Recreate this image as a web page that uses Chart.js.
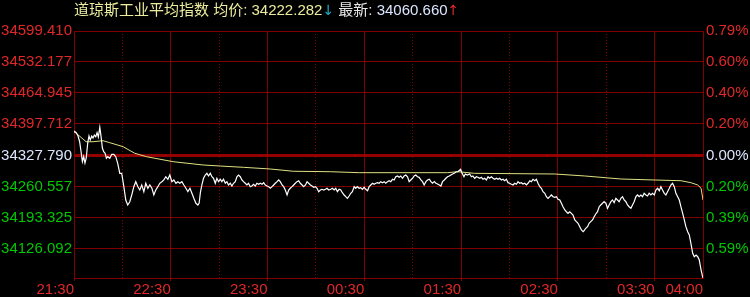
<!DOCTYPE html>
<html>
<head>
<meta charset="utf-8">
<script src="https://cdn.jsdelivr.net/npm/chart.js@4/dist/chart.umd.min.js"></script>
<style>
  html, body { margin: 0; padding: 0; background: #000; overflow: hidden; }
  #wrap { position: relative; width: 750px; height: 297px; }
  #title {
    position: absolute; left: 74px; top: 1px;
    font: 15px "Liberation Sans", "Noto Sans CJK SC", sans-serif;
    line-height: 17px; white-space: nowrap;
  }
  #title .arr { font-family: "DejaVu Sans"; font-size: 14px; }
</style>
</head>
<body>
<div id="wrap">
  <canvas id="c" width="750" height="297"></canvas>
  <div id="title"><span style="color:#ecec9e">道琼斯工业平均指数 均价: 34222.282</span><span class="arr" style="color:#1fb0c8">↓</span> <span style="color:#e6e6e6">最新: </span><span style="color:#dce6ff">34060.660</span><span class="arr" style="color:#e02828">↑</span></div>
</div>
<script>
// --- datos ---
// minutos desde las 21:30
const minutes = [0,1.4,2.5,3.5,4.5,5.2,6.0,6.8,7.6,8.5,9.3,10.1,11.0,11.8,12.6,13.5,14.3,15.1,16.0,16.8,
  17.6,18.4,19.3,20.1,20.9,22.2,23.4,24.7,25.9,27.1,28.4,29.6,30.9,32.1,33.3,34.6,35.8,37.1,38.3,39.6,
  40.8,42.0,43.3,44.5,45.8,47.0,48.3,49.5,50.7,52.0,53.2,54.5,55.7,56.9,58.2,59.4,60.7,61.9,63.2,64.4,
  65.6,66.9,68.1,69.4,70.6,71.9,73.1,74.3,75.6,76.8,77.6,78.4,79.3,80.3,81.4,82.4,83.4,84.5,85.5,86.5,
  87.6,88.6,89.6,90.7,91.7,92.7,93.8,94.8,95.8,96.9,97.9,98.9,100.0,101.0,102.0,103.1,104.1,105.1,106.2,107.2,
  108.2,109.3,110.3,111.3,112.4,113.4,114.5,115.5,116.6,117.6,118.6,119.7,120.7,121.7,122.8,123.8,124.8,125.9,126.9,127.9,
  129.0,130.0,131.0,132.1,133.1,134.1,135.2,136.2,137.2,138.3,139.3,140.3,141.4,142.4,143.5,144.5,145.5,146.6,147.6,148.6,
  149.7,150.7,151.7,152.8,153.8,154.8,155.9,156.9,157.9,159.2,160.2,161.3,162.3,163.3,164.4,165.4,166.4,167.5,168.5,169.5,
  170.6,171.6,172.6,173.7,174.7,175.7,176.8,177.8,178.8,179.9,180.9,182.0,183.0,184.0,185.1,186.1,187.1,188.2,189.2,190.2,
  191.3,192.3,193.3,194.4,195.4,196.4,197.5,198.5,199.5,200.6,201.6,202.6,203.7,204.7,205.7,206.8,207.8,208.8,209.9,210.9,
  211.9,213.0,214.0,215.1,216.1,217.1,218.2,219.2,220.3,221.3,222.3,223.4,224.4,225.4,226.5,227.5,228.5,229.6,230.6,231.6,
  232.7,233.7,234.7,235.8,236.8,238.0,239.7,240.5,241.8,242.6,243.9,245.3,246.4,247.3,248.4,249.5,250.4,251.5,252.6,253.6,
  254.6,255.7,256.7,257.7,258.8,259.8,260.8,261.9,262.9,263.9,265.0,266.0,267.0,268.1,269.1,270.1,271.2,272.2,273.2,274.3,
  275.3,276.3,277.4,278.4,279.5,280.5,281.5,282.6,283.6,284.6,285.7,286.7,287.7,288.8,289.8,290.8,291.9,292.9,293.9,295.0,
  296.0,297.0,298.1,299.1,300.1,301.2,302.2,303.2,304.3,305.3,306.3,307.4,308.4,309.4,310.5,311.5,312.5,313.6,314.6,315.7,
  316.3,317.3,318.4,319.4,320.4,321.5,322.5,323.5,324.6,325.6,326.6,327.7,328.7,329.8,330.8,331.8,332.9,333.9,334.9,336.0,
  337.0,338.0,339.1,340.1,341.1,342.2,343.2,344.2,345.3,346.3,347.3,348.4,349.4,350.4,351.5,352.5,353.5,354.6,355.6,356.6,
  357.7,358.7,359.8,360.8,361.8,362.9,363.9,364.9,366.0,367.0,368.0,369.1,370.1,371.1,372.2,373.2,374.3,375.3,376.3,377.4,
  378.4,379.4,380.5,381.5,382.5,383.6,384.6,385.7,386.7,387.7,388.8,390];

const prices = [34381.6,34378.0,34370.8,34358.3,34333.7,34314.8,34325.7,34312.0,34322.9,34355.5,34370.8,34362.1,34370.8,34366.4,34372.9,34369.2,34378.0,34368.6,34389.7,34369.2,
  34344.6,34336.6,34333.1,34322.2,34325.7,34322.2,34330.9,34330.9,34325.7,34311.3,34289.5,34289.5,34260.4,34231.4,34220.5,34227.7,34242.3,34260.4,34271.3,34260.4,
  34253.2,34264.1,34249.5,34267.8,34256.9,34264.1,34256.9,34242.3,34253.2,34260.4,34267.8,34271.3,34275.0,34282.1,34276.5,34285.8,34271.3,34275.0,34267.8,34271.3,
  34267.8,34271.3,34264.1,34256.9,34249.5,34256.9,34246.0,34235.1,34224.2,34220.5,34224.9,34248.8,34264.1,34278.7,34285.8,34289.5,34283.7,34289.5,34282.1,34278.7,
  34267.8,34278.7,34271.3,34276.5,34271.3,34276.5,34267.8,34271.3,34264.1,34267.8,34261.9,34267.8,34271.3,34282.1,34285.8,34282.1,34275.0,34271.3,34267.8,34264.1,
  34267.8,34260.4,34261.9,34265.6,34261.9,34267.8,34265.6,34267.8,34265.6,34269.1,34264.1,34261.9,34260.4,34256.9,34260.4,34264.1,34267.8,34271.3,34275.0,34271.3,
  34264.1,34260.4,34253.2,34242.3,34253.2,34256.9,34260.4,34264.1,34267.8,34271.3,34273.4,34267.8,34264.1,34260.4,34264.1,34271.3,34267.8,34264.1,34261.9,34259.1,
  34260.4,34256.9,34249.5,34253.2,34254.7,34253.2,34254.7,34256.9,34253.2,34254.7,34256.9,34253.2,34256.9,34249.5,34254.7,34253.2,34247.3,34242.3,34238.6,34235.1,
  34240.1,34246.0,34249.5,34260.4,34256.9,34260.4,34256.9,34258.2,34254.7,34259.1,34254.7,34251.7,34260.4,34264.1,34267.8,34265.6,34267.8,34269.1,34267.8,34271.3,
  34269.1,34271.3,34267.8,34271.3,34273.4,34271.3,34276.5,34275.0,34282.1,34283.7,34280.8,34283.7,34278.7,34283.7,34285.8,34282.1,34271.3,34275.0,34278.7,34283.7,
  34285.8,34282.1,34280.8,34275.0,34271.3,34264.1,34271.3,34275.0,34276.5,34271.3,34267.8,34271.3,34267.8,34266.2,34264.1,34261.9,34271.3,34275.0,34278.7,34282.1,
  34283.7,34285.8,34288.0,34289.5,34292.4,34293.0,34298.3,34290.9,34282.1,34288.0,34285.8,34288.0,34282.1,34283.7,34278.7,34282.1,34280.8,34278.7,34280.8,34276.5,
  34278.7,34275.0,34282.1,34278.7,34282.1,34278.7,34276.5,34278.7,34276.5,34278.7,34275.0,34276.5,34273.4,34276.5,34269.1,34267.8,34265.6,34264.1,34267.8,34265.6,
  34271.3,34267.8,34269.1,34266.2,34267.8,34264.1,34267.8,34273.4,34271.3,34276.5,34273.4,34276.5,34267.8,34260.4,34256.9,34249.5,34246.0,34238.6,34235.1,34238.6,
  34242.3,34238.6,34237.3,34238.6,34232.9,34231.4,34224.2,34216.8,34209.6,34205.9,34202.4,34205.9,34202.4,34198.7,34187.9,34184.2,34180.7,34173.3,34166.1,34162.4,
  34164.6,34169.8,34173.3,34180.7,34184.2,34187.9,34195.0,34200.9,34205.9,34216.8,34220.5,34224.2,34227.7,34224.2,34213.3,34220.5,34227.7,34231.4,34225.5,34235.1,
  34231.4,34227.7,34235.1,34238.6,34231.4,34227.7,34220.5,34216.8,34213.3,34220.5,34227.7,34238.6,34242.3,34238.6,34242.3,34238.6,34246.0,34242.3,34240.1,34246.0,
  34242.3,34246.0,34242.3,34253.2,34256.9,34251.7,34260.4,34253.2,34246.0,34242.3,34249.5,34256.9,34264.1,34267.8,34260.4,34246.0,34238.6,34231.4,34216.8,34202.4,
  34187.9,34173.3,34162.4,34155.2,34137.1,34115.3,34107.9,34111.6,34107.9,34100.7,34079.0,34060.66];

// linea de precio medio
const avgMinutes = [0,1.2,7.5,11.8,18.0,22.2,30.4,37.7,44.9,61.5,80.1,90.7,105.0,121.7,136.0,159.0,176.8,231.6,237.8,248.4,298.1,316.7,339.1,359.6,376.3,382.5,386.7,388.8,390];
const avgPrices = [34379.5,34377.3,34358.3,34358.3,34360.5,34356.2,34347.5,34333.1,34325.7,34314.8,34307.6,34305.4,34302.6,34298.9,34294.0,34293.0,34290.9,34290.9,34293.0,34289.5,34288.0,34283.7,34277.1,34275.0,34273.4,34269.1,34264.1,34256.9,34231.4];

// ejes
const priceTicks = [34599.410, 34532.177, 34464.945, 34397.712, 34327.790, 34260.557, 34193.325, 34126.092];
const pctLabels = ['0.79%', '0.60%', '0.40%', '0.20%', '0.00%', '0.20%', '0.39%', '0.59%'];
const tickMinutes = [0, 30, 60, 90, 120, 150, 180, 210, 240, 270, 300, 330, 360, 390];
const yMin = 34061.55, yMax = 34599.41;

const RED = '#e02828', GREEN = '#00c800', WHITE = '#dce6ff', GRID = '#800000';

function timeOf(m) {
    const t = (21 * 60 + 30 + m) % 1440;
    return String(Math.floor(t / 60)).padStart(2, '0') + ':' + String(t % 60).padStart(2, '0');
}
function labelColor(i) {
    if (i < 4) return RED;
    if (i === 4) return WHITE;
    return GREEN;
}

const font = { family: 'Liberation Sans', size: 15 };

const ctx = document.getElementById('c').getContext('2d');
new Chart(ctx, {
    type: 'line',
    data: {
        datasets: [{
            data: prices.map((p, i) => ({ x: minutes[i], y: p })),
            borderColor: '#ffffff',
            borderWidth: 1.2,
            pointRadius: 0,
            tension: 0
        }, {
            data: avgPrices.map((p, i) => ({ x: avgMinutes[i], y: p })),
            borderColor: '#e0e080',
            borderWidth: 1,
            pointRadius: 0,
            tension: 0
        }]
    },
    options: {
        responsive: false,
        animation: false,
        layout: { padding: { top: 31, left: 0, right: 0, bottom: 0 } },
        plugins: { legend: { display: false }, tooltip: { enabled: false } },
        scales: {
            x: {
                type: 'linear', min: 0, max: 390,
                afterBuildTicks: s => { s.ticks = tickMinutes.map(v => ({ value: v })); },
                afterFit: s => { s.height = 19; },
                ticks: {
                    autoSkip: false, maxRotation: 0, align: 'end', padding: 0,
                    color: RED, font: font,
                    callback: v => (v % 60 === 0 || v === 390) ? timeOf(v) : ''
                },
                grid: {
                    color: GRID, lineWidth: 1, tickLength: 3,
                    tickColor: c => (c.tick && c.tick.value % 60 === 0) ? GRID : 'rgba(0,0,0,0)'
                },
                border: {
                    display: true, color: GRID, width: 1,
                    dash: c => (c.tick && c.tick.value % 60 === 30 && c.tick.value !== 390) ? [1, 2] : []
                }
            },
            y: {
                position: 'left', min: yMin, max: yMax,
                afterBuildTicks: s => { s.ticks = priceTicks.map(v => ({ value: v })); },
                afterFit: s => { s.width = 74; },
                ticks: {
                    padding: 2, font: font,
                    color: c => labelColor(c.index),
                    callback: (v, i) => priceTicks[i].toFixed(3)
                },
                grid: {
                    drawTicks: false,
                    color: c => c.index === 4 ? '#940000' : GRID,
                    lineWidth: c => c.index === 4 ? 3 : 1
                },
                border: { display: true, color: GRID, width: 1 }
            },
            y2: {
                position: 'right', min: yMin, max: yMax,
                afterBuildTicks: s => { s.ticks = priceTicks.map(v => ({ value: v })); },
                afterFit: s => { s.width = 47; },
                ticks: {
                    padding: 3, font: font,
                    color: c => labelColor(c.index),
                    callback: (v, i) => pctLabels[i]
                },
                grid: { drawOnChartArea: false, drawTicks: false },
                border: { display: true, color: GRID, width: 1 }
            }
        }
    }
});
</script>
</body>
</html>
